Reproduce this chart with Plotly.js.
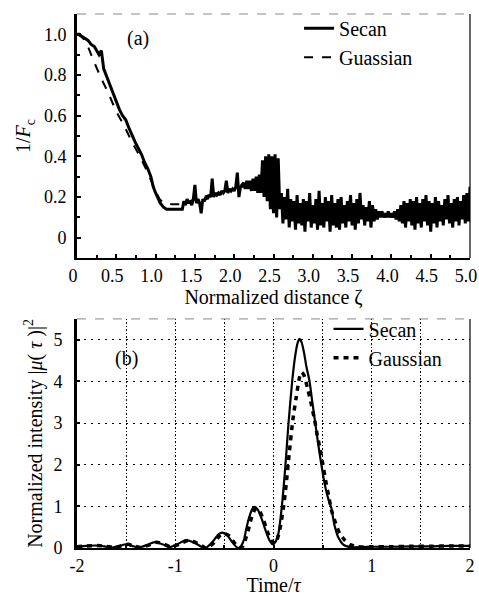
<!DOCTYPE html>
<html>
<head>
<meta charset="utf-8">
<script src="https://cdn.plot.ly/plotly-3.0.1.min.js"></script>
<style>html,body{margin:0;padding:0;background:#fff}#chart{width:479px;height:596px}</style>
</head>
<body>
<div id="chart"></div>
<script>
// ---- Panel (a): 1/Fc versus normalized distance zeta ----
const secanZetaSmooth = [0, 0.03, 0.06, 0.10, 0.14, 0.18, 0.22, 0.25, 0.28, 0.31, 0.34, 0.38, 0.42, 0.46, 0.50, 0.54, 0.58, 0.62, 0.66, 0.70, 0.74, 0.78, 0.82, 0.86, 0.90, 0.94, 0.97, 1.00, 1.03, 1.06, 1.10, 1.14, 1.20, 1.26, 1.32, 1.34];
const secanSmooth     = [1.00, 1.00, 0.99, 0.98, 0.97, 0.95, 0.94, 0.92, 0.90, 0.92, 0.83, 0.79, 0.75, 0.70, 0.66, 0.63, 0.60, 0.58, 0.54, 0.50, 0.47, 0.44, 0.41, 0.37, 0.34, 0.30, 0.25, 0.22, 0.19, 0.17, 0.15, 0.14, 0.14, 0.14, 0.14, 0.14];
const secanZetaNoisy = [1.36,1.38,1.40,1.42,1.44,1.46,1.48,1.50,1.52,1.54,1.56,1.58,1.60,1.62,1.64,1.66,1.68,1.70,1.72,1.74,1.76,1.78,1.80,1.82,1.84,1.86,1.88,1.90,1.92,1.94,1.96,1.98,2.00,2.02,2.04,2.06,2.08,2.10,
  2.12,2.14,2.16,2.18,2.20,2.22,2.24,2.26,2.28,2.30,2.32,2.34,
  2.36,2.38,2.40,2.42,2.44,2.46,2.48,2.50,2.52,2.54,2.56,2.58,
  2.60,2.62,2.64,2.66,2.68,2.70,2.72,2.74,2.76,2.78,2.80,2.82,2.84,2.86,2.88,2.90,2.92,2.94,2.96,2.98,3.00,3.02,3.04,3.06,3.08,3.10,3.12,3.14,3.16,3.18,3.20,3.22,3.24,3.26,3.28,3.30,3.32,3.34,3.36,3.38,3.40,3.42,3.44,3.46,3.48,3.50,3.52,3.54,3.56,3.58,3.60,3.62,3.64,3.66,3.68,3.70,3.72,3.74,3.76,3.78,3.80,3.82,3.84,3.86,3.88,
  3.90,3.92,3.94,3.96,3.98,4.00,4.02,4.04,4.06,4.08,4.10,4.12,
  4.14,4.16,4.18,4.20,4.22,4.24,4.26,4.28,4.30,4.32,4.34,4.36,4.38,4.40,4.42,4.44,4.46,4.48,4.50,4.52,4.54,4.56,4.58,4.60,4.62,4.64,4.66,4.68,4.70,4.72,4.74,4.76,4.78,4.80,4.82,4.84,4.86,4.88,4.90,4.92,4.94,4.96,4.98,5.00];
const secanNoisy = [0.18,0.16,0.19,0.17,0.18,0.16,0.19,0.26,0.17,0.19,0.17,0.12,0.19,0.18,0.20,0.19,0.21,0.20,0.29,0.20,0.22,0.21,0.22,0.21,0.23,0.22,0.23,0.28,0.22,0.24,0.23,0.24,0.23,0.25,0.32,0.20,0.25,0.26,
  0.27,0.24,0.28,0.24,0.28,0.23,0.29,0.23,0.30,0.22,0.31,0.22,
  0.38,0.20,0.40,0.18,0.41,0.14,0.40,0.12,0.41,0.10,0.39,0.14,
  0.22,0.07,0.20,0.09,0.24,0.05,0.19,0.08,0.18,0.04,0.21,0.07,0.17,0.06,0.19,0.03,0.18,0.08,0.22,0.05,0.16,0.07,0.19,0.04,0.23,0.06,0.17,0.05,0.20,0.08,0.18,0.03,0.21,0.06,0.17,0.05,0.19,0.04,0.20,0.07,0.16,0.05,0.18,0.08,0.21,0.06,0.17,0.04,0.19,0.07,0.22,0.09,0.16,0.06,0.15,0.08,0.18,0.05,0.16,0.08,0.14,0.09,0.13,0.10,0.13,
  0.10,0.12,0.10,0.13,0.10,0.12,0.10,0.13,0.09,0.14,0.08,0.16,
  0.07,0.18,0.05,0.17,0.08,0.19,0.06,0.18,0.04,0.20,0.07,0.17,0.05,0.19,0.08,0.21,0.06,0.18,0.03,0.17,0.07,0.20,0.05,0.18,0.08,0.16,0.06,0.19,0.09,0.21,0.07,0.17,0.05,0.19,0.08,0.20,0.06,0.18,0.09,0.21,0.07,0.22,0.08,0.25];
const gaussZeta = [0, 0.05, 0.10, 0.15, 0.20, 0.25, 0.30, 0.40, 0.50, 0.60, 0.70, 0.80, 0.90, 1.00, 1.05, 1.10, 1.20, 1.30, 1.35, 1.50, 1.70, 1.90, 2.10, 2.30, 2.50, 2.70, 3.00, 3.50, 4.00, 4.50, 5.00];
const gaussInvF = [1.00, 0.99, 0.97, 0.93, 0.88, 0.83, 0.79, 0.71, 0.62, 0.55, 0.47, 0.40, 0.32, 0.23, 0.19, 0.17, 0.165, 0.165, 0.165, 0.19, 0.21, 0.23, 0.25, 0.27, 0.26, 0.12, 0.11, 0.11, 0.11, 0.11, 0.12];
const zetaTicks = [0, 0.5, 1, 1.5, 2, 2.5, 3, 3.5, 4, 4.5, 5];
const zetaTickText = ['0', '0.5', '1.0', '1.5', '2.0', '2.5', '3.0', '3.5', '4.0', '4.5', '5.0'];
const invFTicks = [0, 0.2, 0.4, 0.6, 0.8, 1.0];
const invFTickText = ['0', '0.2', '0.4', '0.6', '0.8', '1.0'];

// ---- Panel (b): normalized intensity versus time ----
const secanTime = [-2.0,-1.9,-1.81,-1.72,-1.64,-1.57,-1.50,-1.44,-1.37,-1.29,-1.21,-1.13,-1.06,-0.98,-0.89,-0.80,-0.72,-0.69,-0.62,-0.56,-0.52,-0.47,-0.42,-0.38,-0.36,-0.33,-0.30,-0.28,-0.25,-0.21,-0.19,-0.16,-0.12,-0.08,-0.04,-0.01,0.02,0.05,0.085,0.122,0.153,0.19,0.22,0.245,0.265,0.285,0.31,0.335,0.367,0.395,0.425,0.455,0.487,0.52,0.555,0.59,0.62,0.66,0.71,0.78,0.9,1.0,1.2,1.4,1.6,1.8,2.0];
const secanInt  = [0.03,0.05,0.06,0.04,0.01,0.05,0.09,0.05,0.01,0.07,0.14,0.09,0.02,0.09,0.19,0.12,0.01,0.0,0.15,0.33,0.37,0.30,0.14,0.03,0.0,0.05,0.20,0.43,0.72,0.96,0.99,0.92,0.70,0.42,0.18,0.09,0.15,0.35,1.0,2.0,3.0,4.0,4.6,4.92,5.02,4.95,4.7,4.35,4.0,3.5,3.0,2.5,2.0,1.55,1.2,0.95,0.55,0.25,0.08,0.02,0.02,0.03,0.03,0.04,0.04,0.05,0.05];
const gaussTime = [-2.0,-1.9,-1.8,-1.7,-1.62,-1.55,-1.48,-1.42,-1.35,-1.27,-1.19,-1.11,-1.04,-0.96,-0.87,-0.78,-0.70,-0.67,-0.60,-0.54,-0.50,-0.45,-0.40,-0.36,-0.34,-0.31,-0.28,-0.26,-0.23,-0.19,-0.17,-0.14,-0.10,-0.06,-0.02,0.02,0.06,0.10,0.13,0.16,0.197,0.23,0.265,0.285,0.31,0.35,0.385,0.418,0.446,0.476,0.503,0.53,0.56,0.59,0.633,0.673,0.724,0.78,0.85,1.0,1.2,1.4,1.6,1.8,2.0];
const gaussInt  = [0.03,0.05,0.06,0.04,0.01,0.05,0.09,0.05,0.01,0.07,0.14,0.09,0.02,0.09,0.18,0.12,0.01,0.0,0.14,0.31,0.35,0.29,0.13,0.03,0.0,0.05,0.25,0.40,0.68,0.92,0.95,0.88,0.66,0.38,0.16,0.12,0.40,0.95,1.55,2.27,3.08,3.6,4.1,4.22,4.15,3.8,3.45,3.08,2.7,2.36,2.0,1.63,1.27,0.91,0.59,0.35,0.19,0.08,0.03,0.03,0.03,0.04,0.04,0.05,0.05];
const timeTicks = [-2, -1.5, -1, -0.5, 0, 0.5, 1, 1.5, 2];
const timeTickText = ['-2', '', '-1', '', '0', '', '1', '', '2'];
const intTicks = [0, 1, 2, 3, 4, 5];
const intTickText = ['0', '1', '2', '3', '4', '5'];

const FONT = 'Liberation Serif';

const traces = [
  {x: gaussZeta, y: gaussInvF, xaxis: 'x', yaxis: 'y', mode: 'lines', name: 'Guassian',
   line: {color: '#000', width: 2, dash: 'dash'}, legend: 'legend', legendrank: 2},
  {x: secanZetaSmooth.concat(secanZetaNoisy), y: secanSmooth.concat(secanNoisy), xaxis: 'x', yaxis: 'y', mode: 'lines', name: 'Secan',
   line: {color: '#000', width: 3}, legend: 'legend', legendrank: 1},
  {x: secanTime, y: secanInt, xaxis: 'x2', yaxis: 'y2', mode: 'lines', name: 'Secan',
   line: {color: '#000', width: 2.2, shape: 'spline', smoothing: 0.6}, legend: 'legend2', legendrank: 1},
  {x: gaussTime, y: gaussInt, xaxis: 'x2', yaxis: 'y2', mode: 'lines', name: 'Gaussian',
   line: {color: '#000', width: 3.5, dash: '5px,5px', shape: 'spline', smoothing: 0.6}, legend: 'legend2', legendrank: 2}
];

function f(size) { return {family: FONT, size: size, color: '#000'}; }

const layout = {
  width: 479, height: 596,
  margin: {l: 77, r: 9, t: 14, b: 48},
  paper_bgcolor: '#fff', plot_bgcolor: '#fff',
  font: f(18),
  xaxis: {domain: [0, 1], anchor: 'y', range: [0, 5], tickvals: zetaTicks, ticktext: zetaTickText,
    ticks: 'inside', ticklen: 4, tickwidth: 1.5, tickcolor: '#000', showline: true, linewidth: 2, linecolor: '#000',
    minor: {ticks: 'inside', dtick: 0.25, ticklen: 3, tickcolor: '#000'}, ticklabeloverflow: 'allow', ticklabelshift: -4,
    showgrid: false, zeroline: false, tickfont: f(18),
    title: {text: 'Normalized distance ζ', font: f(20), standoff: 2}},
  yaxis: {domain: [0.543, 1], anchor: 'x', range: [-0.1, 1.1], tickvals: invFTicks, ticktext: invFTickText,
    ticks: 'inside', ticklen: 4, tickwidth: 1.5, tickcolor: '#000', showline: true, linewidth: 3, linecolor: '#000',
    minor: {ticks: 'inside', dtick: 0.1, ticklen: 3, tickcolor: '#000'},
    showgrid: false, zeroline: false, tickfont: f(18), ticklabelstandoff: 4,
    title: {text: '1/<i>F</i><sub>c</sub>', font: f(20), standoff: 8}},
  xaxis2: {domain: [0, 1], anchor: 'y2', range: [-2, 2], tickvals: timeTicks, ticktext: timeTickText,
    ticks: 'inside', ticklen: 3, tickwidth: 1.5, tickcolor: '#000', showline: true, linewidth: 2, linecolor: '#000',
    showgrid: true, gridcolor: '#000', griddash: '1.5px,2px', gridwidth: 1.2, zeroline: false, tickfont: f(18), ticklabeloverflow: 'allow',
    title: {text: 'Time/<i>τ</i>', font: f(20), standoff: 2}},
  yaxis2: {domain: [0, 0.429], anchor: 'x2', range: [0, 5.5], tickvals: intTicks, ticktext: intTickText,
    ticks: 'inside', ticklen: 3, tickwidth: 1.5, tickcolor: '#000', showline: true, linewidth: 3, linecolor: '#000',
    showgrid: true, gridcolor: '#000', griddash: '2px,5px', gridwidth: 1.2, zeroline: false, tickfont: f(18), ticklabelstandoff: 8,
    title: {text: 'Normalized intensity |<i>μ</i>( <i>τ</i> )|<sup>2</sup>', font: f(20), standoff: 6}},
  legend: {x: 0.565, y: 1.01, xanchor: 'left', yanchor: 'top', xref: 'paper', yref: 'paper',
    bgcolor: 'rgba(0,0,0,0)', font: f(20), tracegroupgap: 0},
  legend2: {x: 0.64, y: 0.447, xanchor: 'left', yanchor: 'top', xref: 'paper', yref: 'paper',
    bgcolor: 'rgba(0,0,0,0)', font: f(20), tracegroupgap: 0},
  showlegend: true,
  annotations: [
    {text: '(a)', xref: 'x', yref: 'y', x: 0.77, y: 0.98, showarrow: false, font: f(20)},
    {text: '(b)', xref: 'x2', yref: 'y2', x: -1.5, y: 4.55, showarrow: false, font: f(20)}
  ],
  shapes: [
    {type: 'line', xref: 'x domain', yref: 'y domain', x0: 0, x1: 1, y0: 1, y1: 1, line: {color: '#888', width: 1, dash: 'dash'}},
    {type: 'line', xref: 'x domain', yref: 'y domain', x0: 1, x1: 1, y0: 0, y1: 1, line: {color: '#000', width: 1.2}},
    {type: 'line', xref: 'x2 domain', yref: 'y2 domain', x0: 0, x1: 1, y0: 1, y1: 1, line: {color: '#888', width: 1, dash: 'dash'}},
    {type: 'line', xref: 'x2 domain', yref: 'y2 domain', x0: 1, x1: 1, y0: 0, y1: 1, line: {color: '#000', width: 1.2}}
  ]
};

Plotly.newPlot('chart', traces, layout, {displayModeBar: false, responsive: false});
</script>
</body>
</html>
